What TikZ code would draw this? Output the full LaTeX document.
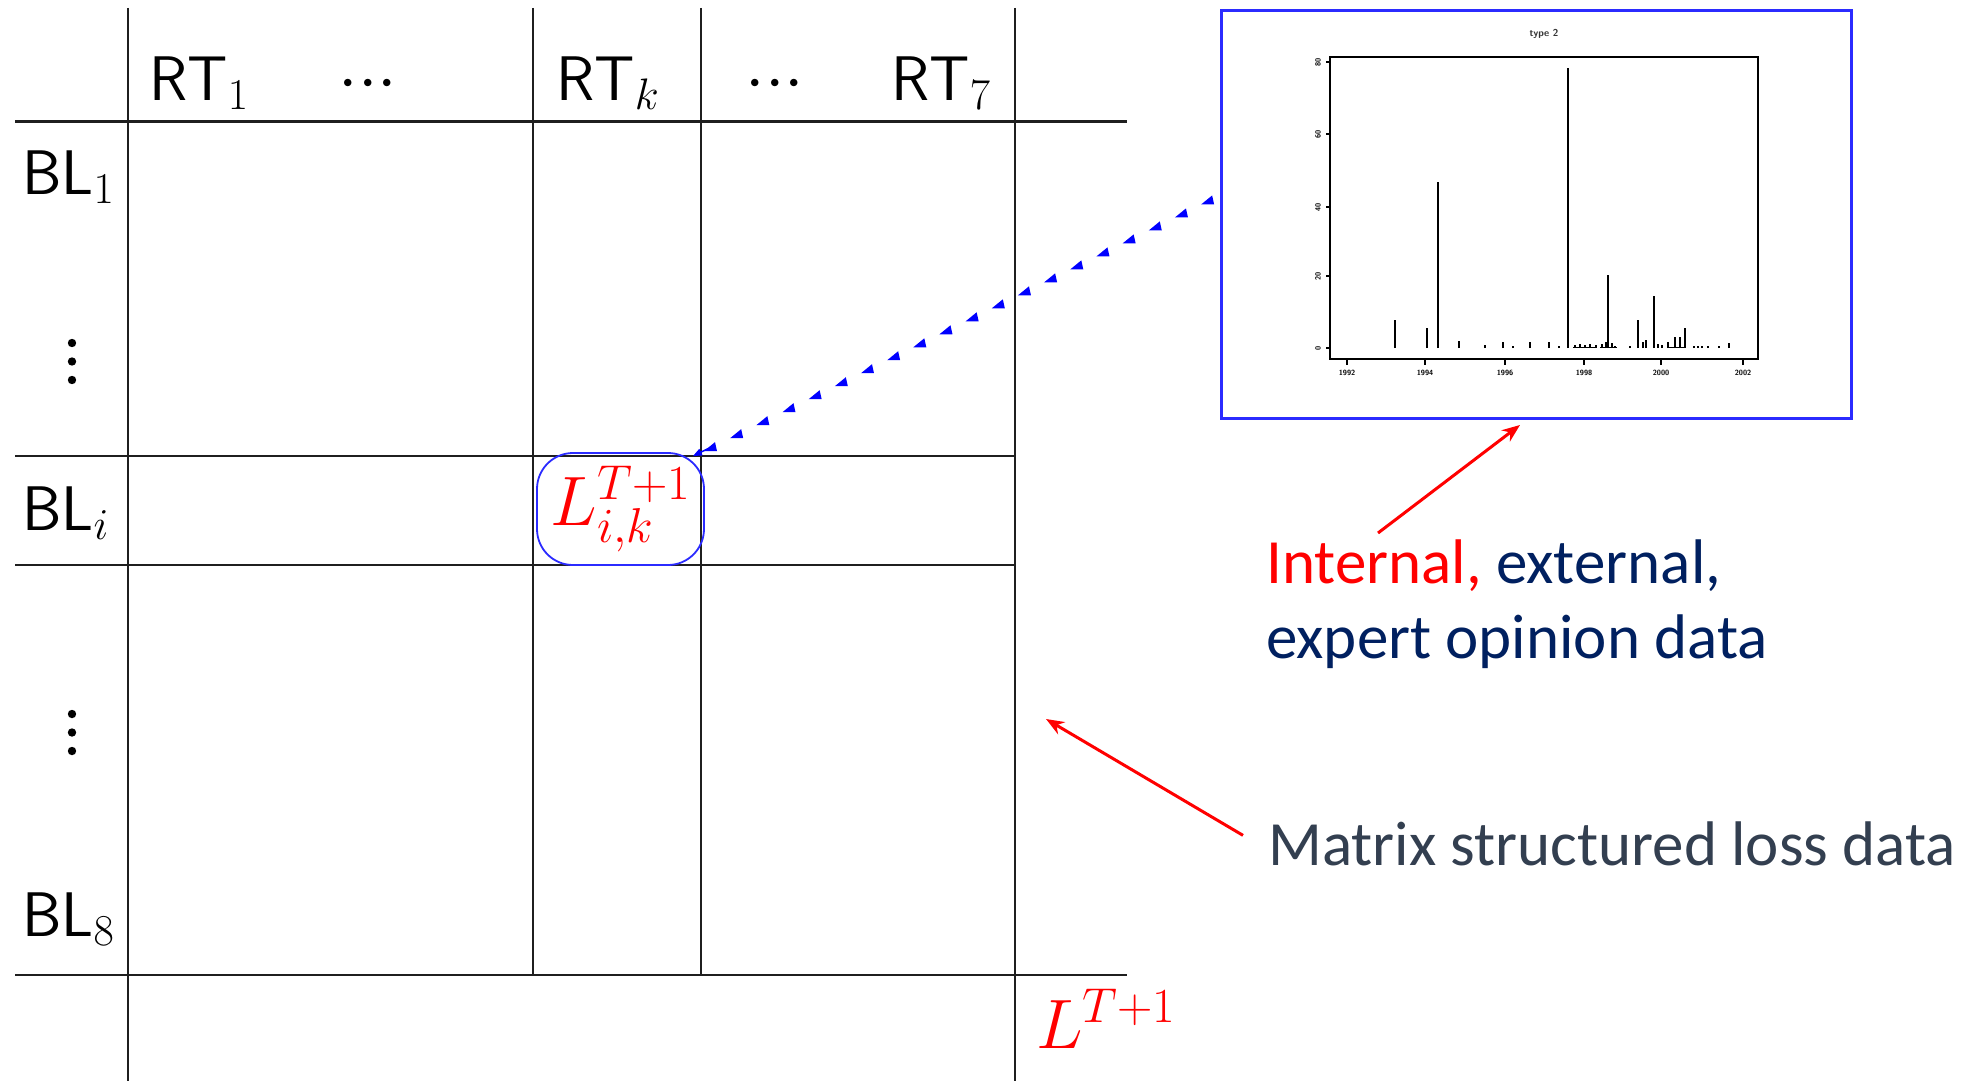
\RequirePackage{fix-cm}
\documentclass[tikz,border=0pt]{standalone}
\usepackage[no-math]{fontspec}
\newfontfamily\calibri{Carlito}
\usetikzlibrary{arrows.meta,calc}
\definecolor{navy}{HTML}{002060}
\definecolor{slate}{HTML}{333F50}
\definecolor{boxblue}{HTML}{2B2BFF}
\definecolor{pureblue}{HTML}{0000FF}
\begin{document}
\begin{tikzpicture}[x=1pt,y=-1pt,
  gridline/.style={line width=2.4pt, black!88},
  sflab/.style={font=\fontsize{63}{76}\selectfont\sffamily, inner sep=0pt, anchor=base west},
  dotsym/.style={font=\fontsize{70}{80}\selectfont, inner sep=0pt, anchor=base},
  redmath/.style={text=red, font=\fontsize{70}{80}\selectfont, inner sep=0pt},
  calib/.style={font=\calibri\fontsize{63}{73}\selectfont, inner sep=0pt, anchor=base west},
  redarrow/.style={red, line width=3pt, -{Stealth[length=18pt,width=14pt]}},
  tinylab/.style={font=\sffamily\bfseries\fontsize{7.5}{8}\selectfont, inner sep=0pt},
  bar/.style={line width=2.4pt, black}
]
\useasboundingbox (0,0) rectangle (1985,1081);
\fill[white] (0,0) rectangle (1985,1081);

% grid
\draw[gridline] (128,8) -- (128,1081);
\draw[gridline] (533,8) -- (533,975);
\draw[gridline] (701,8) -- (701,975);
\draw[gridline] (1015,8) -- (1015,1081);
\draw[gridline] (15,121.5) -- (1127,121.5);
\draw[gridline] (15,456) -- (1015,456);
\draw[gridline] (15,565) -- (1015,565);
\draw[gridline] (15,975) -- (1127,975);

% column headers
\newcommand{\mydots}{$\mathord{\cdot}\mathord{\cdot}\mathord{\cdot}$}
\node[sflab] (rt1) at (149,100) {RT$_1$};
\node[dotsym] (cd1) at (368,100.5) {\mydots};
\node[sflab] (rtk) at (556,100) {RT$_k$};
\node[dotsym] (cd2) at (775,100.5) {\mydots};
\node[sflab] (rt7) at (891,100) {RT$_7$};

% row headers
\node[sflab] (bl1) at (22,194) {BL$_1$};
\node[sflab] (bli) at (22,530) {BL$_i$};
\node[sflab] (bl8) at (22,936) {BL$_8$};
\foreach \yy in {343,361.5,380} \fill (72,\yy) circle (4.2);
\foreach \yy in {714,732.5,751} \fill (72,\yy) circle (4.2);

% cell
\node[redmath, draw=boxblue, line width=1.8pt, rounded corners=36pt,
      minimum width=167pt, minimum height=112pt] (Lik) at (620.5,509) {$L_{i,k}^{T+1}$};
\node[redmath, anchor=base west] (Ltot) at (1036,1048) {$L^{T+1}$};

% chart inset
\node[draw=boxblue, line width=3pt, minimum width=630pt, minimum height=408pt,
      inner sep=0pt, anchor=north west] (chart) at (1220,9) {};
\node[font=\sffamily\bfseries\fontsize{10}{12}\selectfont, inner sep=0pt, text=black!80] (ttl) at (1544,34) {type 2};
\draw[line width=2pt] (1330,57) rectangle (1758,359);
\foreach \yy/\ll in {348/0,276/20,207/40,134/60,62/80}{
  \draw[line width=1.5pt] (1330,\yy) -- (1326,\yy);
  \node[tinylab, rotate=90] at (1318,\yy) {\ll};
}
\foreach \xx/\ll in {1347/1992,1425/1994,1505/1996,1584/1998,1661/2000,1743/2002}{
  \draw[line width=1.5pt] (\xx,359) -- (\xx,365);
  \node[tinylab] at (\xx,373) {\ll};
}
\foreach \xx/\tp in {1395/320,1427/328,1438/182,1459/341,1485/345,1503/342,1513/346,1530/342,1549/342,1559/346,1568/68,1575/345,1580/344,1585/345,1590/344,1596/345,1602/344,1606/342,1608/275,1612/343,1615/346,1630/346,1638/320,1643/342,1646/340,1654/296,1658/344,1662/345,1668/342,1675/337,1680/337,1685/328,1694/346,1698/346,1702/346,1708/346,1719/346,1729/343}
  \draw[bar] (\xx,348) -- (\xx,\tp);
\draw[line width=1.5pt] (1573,347.5) -- (1597,347.5);
\draw[line width=1.5pt] (1600,347.5) -- (1617,347.5);
\draw[line width=1.5pt] (1667,347.5) -- (1686,347.5);

% blue triangle-dotted connector
\coordinate (dotstart) at ($(Lik.north east)+(-12,4)$);
\coordinate (dotend) at ($(chart.west)+(-10,-15)$);
\foreach \k in {0,...,19}{
  \pgfmathsetmacro\tt{0.035+0.0506*\k}
  \fill[pureblue] ($(dotstart)!\tt!(dotend)$) ++(-7,4) -- ++(13,0) -- ++(-2,-9) -- cycle;
}
\draw[pureblue, line width=1.5pt, -{Triangle[length=9pt,width=7pt]}] ($(dotstart)!0.03!(dotend)$) -- (dotstart);

% right-hand texts
\node[calib] (src1) at (1266,583) {\textcolor{red}{Internal,} \textcolor{navy}{external,}};
\node[calib] (src2) at (1266,658) {\textcolor{navy}{expert opinion data}};
\node[calib, text=slate] (mat) at (1268,865) {Matrix structured loss data};

% red arrows
\coordinate (a1tail) at (1378,533);
\coordinate (a1tip) at (1520,425);
\draw[redarrow] (a1tail) -- (a1tip);
\coordinate (a2tail) at ($(mat.west)+(-25,-8)$);
\coordinate (a2tip) at (1046,719);
\draw[redarrow] (a2tail) -- (a2tip);
\end{tikzpicture}
\end{document}
